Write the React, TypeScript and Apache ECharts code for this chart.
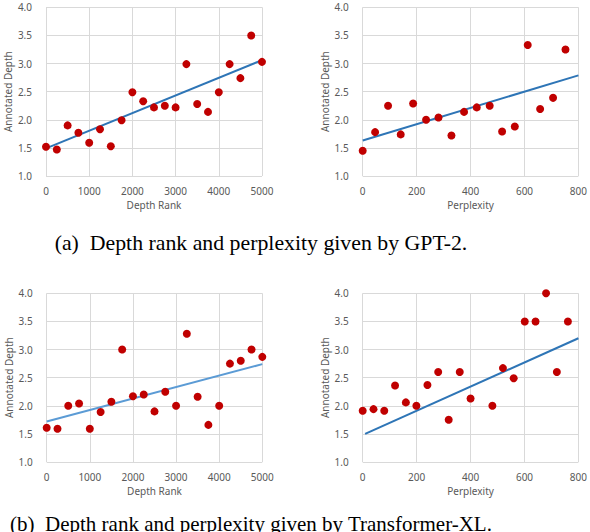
import React, { useEffect, useRef } from "react";
import * as echarts from "echarts";

// Panel (a) left: GPT-2 depth rank vs annotated depth
const gptRankX = [0, 250, 500, 750, 1000, 1250, 1500, 1750, 2000, 2250, 2500, 2750, 3000, 3250, 3500, 3750, 4000, 4250, 4500, 4750, 5000];
const gptRankY = [1.52, 1.47, 1.9, 1.77, 1.59, 1.83, 1.53, 1.99, 2.49, 2.33, 2.22, 2.25, 2.22, 2.99, 2.28, 2.14, 2.49, 2.99, 2.74, 3.5, 3.03];
const gptRankTrend = [[0, 1.49], [5000, 3.06]];

// Panel (a) right: GPT-2 perplexity vs annotated depth
const gptPplX = [0, 46, 94, 141, 187, 235, 281, 329, 376, 423, 471, 517, 564, 612, 658, 706, 752];
const gptPplY = [1.45, 1.78, 2.25, 1.74, 2.29, 2.0, 2.04, 1.72, 2.14, 2.22, 2.25, 1.79, 1.88, 3.33, 2.19, 2.39, 3.25];
const gptPplTrend = [[0, 1.63], [800, 2.79]];

// Panel (b) left: Transformer-XL depth rank vs annotated depth
const txlRankX = [0, 250, 500, 750, 1000, 1250, 1500, 1750, 2000, 2250, 2500, 2750, 3000, 3250, 3500, 3750, 4000, 4250, 4500, 4750, 5000];
const txlRankY = [1.61, 1.59, 2.0, 2.04, 1.59, 1.89, 2.07, 3.0, 2.17, 2.2, 1.9, 2.25, 2.0, 3.28, 2.16, 1.66, 2.0, 2.75, 2.8, 3.0, 2.87];
const txlRankTrend = [[0, 1.72], [5000, 2.74]];

// Panel (b) right: Transformer-XL perplexity vs annotated depth
const txlPplX = [0, 40, 80, 120, 160, 199, 240, 280, 319, 360, 400, 481, 520, 560, 601, 641, 680, 720, 761];
const txlPplY = [1.91, 1.94, 1.91, 2.36, 2.06, 2.0, 2.37, 2.6, 1.75, 2.6, 2.13, 2.0, 2.67, 2.49, 3.5, 3.5, 4.0, 2.6, 3.5];
const txlPplTrend = [[9, 1.5], [800, 3.2]];

const yTicks = [1.0, 1.5, 2.0, 2.5, 3.0, 3.5, 4.0];
const rankTicks = [0, 1000, 2000, 3000, 4000, 5000];
const pplTicks = [0, 200, 400, 600, 800];

const captionA = "(a)  Depth rank and perplexity given by GPT-2.";
const captionB = "(b)  Depth rank and perplexity given by Transformer-XL.";

const FONT = '"Noto Sans", "Open Sans", sans-serif';
const LABEL_COLOR = "#595959";
const GRID_COLOR = "#d9d9d9";
const DOT_COLOR = "#C00000";
const CAPTION_FONT = '21px "Liberation Serif", "Times New Roman", serif';
const CAPTION_FONT_A = '21.8px "Liberation Serif", "Times New Roman", serif';

const zip = (xs: number[], ys: number[]) => xs.map((x, i) => [x, ys[i]]);

export default function App() {
  const ref = useRef<HTMLDivElement>(null);

  useEffect(() => {
    if (!ref.current) return;
    const chart = echarts.init(ref.current, null, { renderer: "svg" });

    const grids = [
      { left: 46, top: 7.3, width: 216, height: 168.7 },
      { left: 362.7, top: 7.3, width: 218, height: 168.7 },
      { left: 46.7, top: 293.3, width: 215.6, height: 168.7 },
      { left: 362.7, top: 293.3, width: 218, height: 168.7 },
    ];

    const xDefs = [
      { name: "Depth Rank", ticks: rankTicks },
      { name: "Perplexity", ticks: pplTicks },
      { name: "Depth Rank", ticks: rankTicks },
      { name: "Perplexity", ticks: pplTicks },
    ];

    const xAxis = xDefs.map((d, i) => ({
      type: "value",
      gridIndex: i,
      min: d.ticks[0],
      max: d.ticks[d.ticks.length - 1],
      interval: d.ticks[1] - d.ticks[0],
      name: d.name,
      nameLocation: "middle",
      nameGap: 24,
      nameTextStyle: { color: LABEL_COLOR, fontFamily: FONT, fontSize: 10 },
      axisLine: { show: false },
      axisTick: { show: false },
      axisLabel: {
        color: LABEL_COLOR,
        fontFamily: FONT,
        fontSize: 10,
        margin: 10,
        formatter: (v: number) => String(v),
      },
      splitLine: { show: true, lineStyle: { color: GRID_COLOR, width: 1 } },
    }));

    const yAxis = grids.map((_, i) => ({
      type: "value",
      gridIndex: i,
      min: yTicks[0],
      max: yTicks[yTicks.length - 1],
      interval: yTicks[1] - yTicks[0],
      name: "Annotated Depth",
      nameLocation: "middle",
      nameGap: 33,
      nameTextStyle: { color: LABEL_COLOR, fontFamily: FONT, fontSize: 10 },
      axisLine: { show: false },
      axisTick: { show: false },
      axisLabel: {
        color: LABEL_COLOR,
        fontFamily: FONT,
        fontSize: 10,
        margin: 14,
        formatter: (v: number) => v.toFixed(1),
      },
      splitLine: { show: true, lineStyle: { color: GRID_COLOR, width: 1 } },
    }));

    const panels = [
      { pts: zip(gptRankX, gptRankY), trend: gptRankTrend, lineColor: "#2E75B6", lw: 2 },
      { pts: zip(gptPplX, gptPplY), trend: gptPplTrend, lineColor: "#2E75B6", lw: 2 },
      { pts: zip(txlRankX, txlRankY), trend: txlRankTrend, lineColor: "#5B9BD5", lw: 2 },
      { pts: zip(txlPplX, txlPplY), trend: txlPplTrend, lineColor: "#2E75B6", lw: 2 },
    ];

    const series: any[] = [];
    panels.forEach((p, i) => {
      series.push({
        type: "line",
        xAxisIndex: i,
        yAxisIndex: i,
        data: p.trend,
        showSymbol: false,
        symbol: "none",
        lineStyle: { color: p.lineColor, width: p.lw },
        z: 2,
      });
      series.push({
        type: "scatter",
        xAxisIndex: i,
        yAxisIndex: i,
        data: p.pts,
        symbolSize: 8,
        itemStyle: { color: DOT_COLOR, opacity: 1 },
        z: 3,
      });
    });

    chart.setOption({
      animation: false,
      backgroundColor: "#ffffff",
      grid: grids,
      xAxis,
      yAxis,
      series,
      graphic: [
        {
          type: "text",
          x: 261,
          y: 243,
          style: {
            text: captionA,
            font: CAPTION_FONT_A,
            fill: "#000000",
            textAlign: "center",
            textVerticalAlign: "middle",
          },
        },
        {
          type: "text",
          x: 251,
          y: 524,
          style: {
            text: captionB,
            font: CAPTION_FONT,
            fill: "#000000",
            textAlign: "center",
            textVerticalAlign: "middle",
          },
        },
      ],
    });

    return () => chart.dispose();
  }, []);

  return (
    <div
      ref={ref}
      style={{ position: "absolute", left: 0, top: 0, width: 590, height: 532, background: "#fff" }}
    />
  );
}
